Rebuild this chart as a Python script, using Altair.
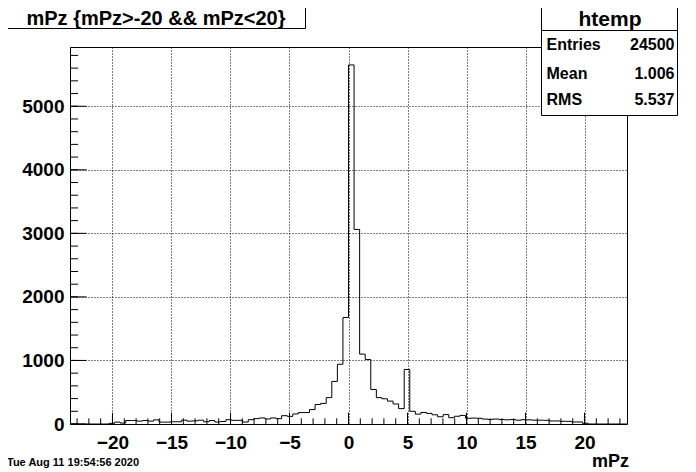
import altair as alt
import numpy as np
import pandas as pd

# ---------------- data ----------------
x_min, x_max = -23.6, 23.6
n_bins = 100
counts = [
    0, 0, 0, 0, 0, 0, 0, 10, 30, 15,
    55, 55, 45, 55, 45, 65, 30, 30, 35, 35,
    60, 45, 50, 60, 35, 55, 31, 40, 68, 58,
    58, 31, 68, 84, 95, 79, 95, 84, 131, 120,
    158, 180, 180, 227, 307, 324, 415, 670, 940, 1675,
    5650, 3062, 1100, 1014, 543, 415, 397, 360, 315, 242,
    858, 200, 155, 182, 167, 145, 114, 148, 99, 122,
    135, 90, 93, 90, 77, 72, 78, 70, 66, 70,
    60, 68, 65, 60, 60, 58, 48, 48, 43, 42,
    32, 32, 11, 0, 0, 0, 0, 0, 0, 0,
]
x_major = [-20, -15, -10, -5, 0, 5, 10, 15, 20]
x_minor = list(range(-23, 24))
y_major = [0, 1000, 2000, 3000, 4000, 5000]
y_minor = list(range(0, 6000, 200))

title_text = "mPz {mPz>-20 && mPz<20}"
stat_name = "htemp"
stat_labels = ["Entries", "Mean", "RMS"]
stat_values = ["24500", "1.006", "5.537"]
date_text = "Tue Aug 11 19:54:56 2020"
x_title = "mPz"

# ---------------- derived tables ----------------
edges = np.linspace(x_min, x_max, n_bins + 1)
hist_df = pd.DataFrame({"x": edges, "c": counts + [counts[-1]]})
y_max = max(counts) * 1.05

W, H = 557, 377
FONT = "Liberation Sans"
MINUS = "\u2212"

xs = alt.Scale(domain=[x_min, x_max], nice=False, zero=False)
ys = alt.Scale(domain=[0, y_max], nice=False, zero=True)

grid_kw = dict(grid=True, gridDash=[1, 2], gridColor="black", gridWidth=1, gridOpacity=1,
               ticks=False, domain=False, labelFont=FONT, labelFontWeight="bold",
               labelFontSize=19, labelColor="black", labelOverlap=False, labelFlush=False,
               title="")
x_axis = alt.Axis(
    values=x_major, labelPadding=9,
    labelExpr=f"datum.value < 0 ? '{MINUS}' + format(-datum.value, 'd') : format(datum.value, 'd')",
    **grid_kw)
y_axis = alt.Axis(values=y_major, labelPadding=6, labelExpr="format(datum.value, 'd')", **grid_kw)

hist = alt.Chart(hist_df).mark_line(interpolate="step-after", color="black", strokeWidth=1).encode(
    x=alt.X("x:Q", scale=xs, axis=x_axis),
    y=alt.Y("c:Q", scale=ys, axis=y_axis),
)

def xticks(vals, length):
    return alt.Chart(pd.DataFrame({"x": vals})).mark_rule(color="black", strokeWidth=1).encode(
        x=alt.X("x:Q", scale=xs, axis=x_axis),
        y=alt.value(H), y2=alt.value(H - length))

def yticks(vals, length):
    return alt.Chart(pd.DataFrame({"c": vals})).mark_rule(color="black", strokeWidth=1).encode(
        y=alt.Y("c:Q", scale=ys, axis=y_axis),
        x=alt.value(0), x2=alt.value(length))

one = pd.DataFrame({"t": [""]})

def box(x1, x2, y1, y2):
    return alt.Chart(one).mark_rect(fill="white", stroke="black", strokeWidth=1, clip=False).encode(
        x=alt.value(x1), x2=alt.value(x2), y=alt.value(y1), y2=alt.value(y2))

def frame(x1, x2, y1, y2):
    return alt.Chart(one).mark_rect(fillOpacity=0, stroke="black", strokeWidth=1, clip=False).encode(
        x=alt.value(x1), x2=alt.value(x2), y=alt.value(y1), y2=alt.value(y2))

def hline(x1, x2, y):
    return alt.Chart(one).mark_rule(color="black", strokeWidth=1, clip=False).encode(
        x=alt.value(x1), x2=alt.value(x2), y=alt.value(y))

def label(text, x, y, size, align="left", weight="bold"):
    return alt.Chart(pd.DataFrame({"t": [text]})).mark_text(
        font=FONT, fontWeight=weight, fontSize=size, align=align, baseline="middle",
        color="black", clip=False).encode(x=alt.value(x), y=alt.value(y), text="t:N")

layers = [
    hist,
    xticks(x_minor, 5.7),
    xticks(x_major, 11.3),
    yticks(y_minor, 8),
    yticks(y_major, 16.5),
    frame(0.5, W + 0.5, 0.5, H + 0.5),
    # title box
    box(-63.5, 235.5, -44.5, -18.5),
    label(title_text, 86, -28.5, 20, align="center"),
    # stats box
    box(471.5, 607.5, -46.5, 68.5),
    hline(471.5, 607.5, -16.5),
    label(stat_name, 540, -27.5, 21, align="center"),
]
stat_y = [-2.5, 27, 53]
for lab, val, yy in zip(stat_labels, stat_values, stat_y):
    layers.append(label(lab, 476.5, yy, 16))
    layers.append(label(val, 604.5, yy, 16, align="right"))

layers.append(label(date_text, -63, 416, 11))
layers.append(label(x_title, 559, 415, 18, align="right"))

chart = alt.layer(*layers).properties(
    width=W, height=H,
    padding={"left": 62, "top": 39, "right": 61, "bottom": 49},
    autosize=alt.AutoSizeParams(type="none"),
    background="white",
).configure_view(strokeWidth=0)

chart.save("out.html", embed_options={"renderer": "svg", "actions": False})
